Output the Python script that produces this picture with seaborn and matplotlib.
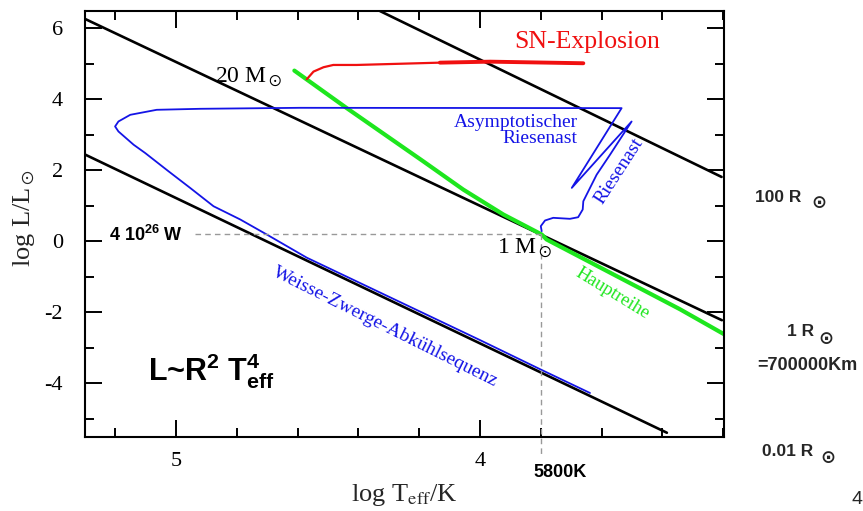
import matplotlib
matplotlib.use("Agg")
import matplotlib.pyplot as plt
import seaborn as sns
import pandas as pd
from matplotlib.ticker import MultipleLocator, FormatStrFormatter

# ---------------- data (log T_eff, log L/Lsun) ----------------
radius_100_T = [4.329, 3.205]
radius_100_L = [6.478, 1.806]
radius_1_T = [5.299, 3.204]
radius_1_L = [6.253, -2.23]
radius_001_T = [5.299, 3.385]
radius_001_L = [2.433, -5.40]

main_seq_T = [4.611, 4.4385, 4.1865, 4.055, 3.923, 3.797, 3.781, 3.342, 3.197]
main_seq_L = [4.801, 3.744, 2.244, 1.449, 0.747, 0.185, 0.045, -1.921, -2.624]

sn_T = [4.570, 4.548, 4.515, 4.483, 4.406, 4.132, 3.967, 3.660]
sn_L = [4.559, 4.773, 4.896, 4.960, 4.960, 5.025, 5.053, 5.008]
sn_thick_T = [4.132, 3.967, 3.660]
sn_thick_L = [5.025, 5.053, 5.008]

sun_track_T = [3.797, 3.800, 3.786, 3.759, 3.704, 3.677, 3.662, 3.660, 3.649, 3.616,
               3.572, 3.501, 3.698, 3.534, 4.592, 4.921, 5.064, 5.151, 5.190, 5.201,
               5.190, 5.140, 5.102, 5.025, 4.954, 4.877, 4.789, 4.702, 4.570, 4.0,
               3.803, 3.638]
sun_track_L = [0.278, 0.419, 0.579, 0.654, 0.626, 0.671, 0.888, 1.121, 1.309, 1.871,
               2.433, 3.368, 1.497, 3.744, 3.753, 3.725, 3.697, 3.556, 3.368, 3.228,
               3.087, 2.713, 2.480, 1.964, 1.497, 0.980, 0.607, 0.185, -0.469, -2.79,
               -3.607, -4.28]

sun_T = 3.80
sun_L = 0.185
wall_T = 4.938

radius_labels = ["100 R", "1 R", "0.01 R"]

# ---------------- style ----------------
sns.set_theme(style="ticks")
plt.rcParams["font.family"] = ["Liberation Serif", "DejaVu Serif"]
plt.rcParams["axes.unicode_minus"] = False
plt.rcParams["mathtext.fontset"] = "custom"
plt.rcParams["mathtext.rm"] = "Liberation Sans"
plt.rcParams["mathtext.bf"] = "Liberation Sans:bold"

BLACK = "#000000"
BLUE = "#1414e6"
GREEN = "#1ee61e"
RED = "#f01010"
GRAY = "#999999"

fig = plt.figure(figsize=(8.63, 5.11), dpi=100)
ax = fig.add_axes([85 / 863, 1 - 437 / 511, (724 - 85) / 863, (437 - 11) / 511])


def draw(T, L, **kw):
    df = pd.DataFrame({"T": T, "L": L})
    sns.lineplot(data=df, x="T", y="L", sort=False, estimator=None, ax=ax, legend=False, **kw)


draw(radius_100_T, radius_100_L, color=BLACK, linewidth=1.9)
draw(radius_1_T, radius_1_L, color=BLACK, linewidth=1.9)
draw(radius_001_T, radius_001_L, color=BLACK, linewidth=1.9)
draw(main_seq_T, main_seq_L, color=GREEN, linewidth=3.0)
draw(sn_T, sn_L, color=RED, linewidth=1.6)
draw(sn_thick_T, sn_thick_L, color=RED, linewidth=2.8)
draw(sun_track_T, sun_track_L, color=BLUE, linewidth=1.3)

# dashed reference lines
ax.plot([wall_T, sun_T], [sun_L, sun_L], color=GRAY, linestyle=(0, (4, 3)), linewidth=1.0)
ax.plot([sun_T, sun_T], [sun_L, -5.99], color=GRAY, linestyle=(0, (4, 3)), linewidth=1.0,
        clip_on=False)

ax.set_xlim(5.30, 3.197)
ax.set_ylim(-5.52, 6.48)

ax.xaxis.set_major_locator(MultipleLocator(1))
ax.xaxis.set_minor_locator(MultipleLocator(0.2))
ax.yaxis.set_major_locator(MultipleLocator(2))
ax.yaxis.set_minor_locator(MultipleLocator(1))
ax.xaxis.set_major_formatter(FormatStrFormatter("%d"))
ax.yaxis.set_major_formatter(FormatStrFormatter("%d"))
ax.tick_params(which="both", direction="in", top=True, right=True, width=1.4, colors=BLACK)
ax.tick_params(which="major", length=12, labelsize=16)
ax.tick_params(which="minor", length=6.5)
ax.tick_params(axis="y", which="major", pad=16)
ax.tick_params(axis="x", which="major", pad=11)
for s in ax.spines.values():
    s.set_linewidth(1.5)
    s.set_color(BLACK)
    s.set_visible(True)
ax.grid(False)
ax.set_facecolor("white")

ax.set_xlabel(r"log T$_{\rm eff}$/K", fontsize=19, math_fontfamily="stix")
ax.set_ylabel(r"log L/L$_\odot$", fontsize=19, math_fontfamily="stix", va="center")
ax.yaxis.set_label_coords(-0.096, 0.514)
ax.xaxis.set_label_coords(0.499, -0.106)

serif = dict(math_fontfamily="stix")
ax.text(4.763, 4.62, r"20 M$_\odot$", fontsize=17, ha="center", va="center", color=BLACK, **serif)
ax.text(3.648, 5.60, "SN-Explosion", fontsize=18.5, ha="center", va="center", color=RED)
ax.text(3.678, 3.107, "Asymptotischer\nRiesenast", fontsize=14, ha="right", va="center",
        multialignment="right", color=BLUE, linespacing=0.95)
ax.text(3.543, 1.963, "Riesenast", fontsize=14, ha="center", va="center", rotation=57,
        color=BLUE)
ax.text(3.852, -0.22, r"1 M$_\odot$", fontsize=17, ha="center", va="center", color=BLACK,
        **serif)
ax.text(3.564, -1.47, "Hauptreihe", fontsize=13.5, ha="center", va="center", rotation=-31.5,
        color=GREEN)
ax.text(4.3125, -2.43, "Weisse-Zwerge-Abkühlsequenz", fontsize=14, ha="center", va="center",
        rotation=-26.5, color=BLUE)

sans = dict(family=["Liberation Sans", "DejaVu Sans"], fontweight="bold", math_fontfamily="custom")
ax.text(5.092, -3.66, r"L~R$^{\mathbf{2}}$ T$^{\mathbf{4}}_{\mathbf{eff}}$", fontsize=22,
        ha="left", va="center", color=BLACK, **sans)
ax.text(5.222, 0.185, r"4 10$^{\mathbf{26}}$ W", fontsize=13, ha="left", va="center",
        color=BLACK, **sans)
ax.text(3.737, -6.53, "5800K", fontsize=13, ha="center", va="center", color=BLACK,
        clip_on=False, **sans)

fsans = dict(family=["Liberation Sans", "DejaVu Sans"], fontweight="bold")
label_pos = [(755, 197), (787, 332), (762, 452)]
sun_pos = [(811, 203), (818, 339), (820, 458)]
for lab, (lx, ly), (sx, sy) in zip(radius_labels, label_pos, sun_pos):
    fig.text(lx / 863, 1 - ly / 511, lab, fontsize=12.5, ha="left", va="center", **fsans)
    fig.text(sx / 863, 1 - sy / 511, "\u2299", fontsize=13, ha="left", va="center",
             family=["DejaVu Sans"], fontweight="bold")
fig.text(757 / 863, 1 - 365 / 511, "=700000Km", fontsize=13, ha="left", va="center", **fsans)
fig.text(851 / 863, 1 - 500 / 511, "4", fontsize=14, ha="left", va="center",
         family=["Liberation Sans", "DejaVu Sans"])

fig.savefig("out.png", dpi=100, facecolor="white")
